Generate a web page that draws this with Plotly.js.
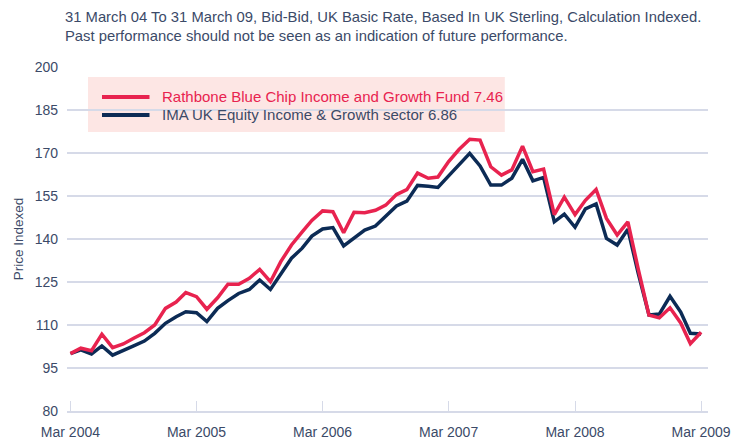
<!DOCTYPE html>
<html>
<head>
<meta charset="utf-8">
<script src="https://cdn.plot.ly/plotly-3.0.1.min.js"></script>
<style>html,body{margin:0;padding:0;background:#fff;}#chart{width:731px;height:441px;}</style>
</head>
<body>
<div id="chart"></div>
<script>
const months = [
 "2004-03-31","2004-04-30","2004-05-31","2004-06-30","2004-07-31","2004-08-31","2004-09-30","2004-10-31","2004-11-30","2004-12-31",
 "2005-01-31","2005-02-28","2005-03-31","2005-04-30","2005-05-31","2005-06-30","2005-07-31","2005-08-31","2005-09-30","2005-10-31",
 "2005-11-30","2005-12-31","2006-01-31","2006-02-28","2006-03-31","2006-04-30","2006-05-31","2006-06-30","2006-07-31","2006-08-31",
 "2006-09-30","2006-10-31","2006-11-30","2006-12-31","2007-01-31","2007-02-28","2007-03-31","2007-04-30","2007-05-31","2007-06-30",
 "2007-07-31","2007-08-31","2007-09-30","2007-10-31","2007-11-30","2007-12-31","2008-01-31","2008-02-29","2008-03-31","2008-04-30",
 "2008-05-31","2008-06-30","2008-07-31","2008-08-31","2008-09-30","2008-10-31","2008-11-30","2008-12-31","2009-01-31","2009-02-28",
 "2009-03-31"
];
const fundValues = [
 100.0, 101.9, 101.0, 106.8, 102.1, 103.4, 105.4, 107.3, 110.0, 115.8,
 118.0, 121.3, 119.9, 115.5, 119.5, 124.2, 124.2, 126.3, 129.4, 125.1,
 132.1, 137.9, 142.5, 146.5, 149.8, 149.5, 142.2, 149.3, 149.2, 150.0,
 151.8, 155.5, 157.2, 163.0, 161.2, 161.6, 167.0, 171.2, 174.8, 174.5,
 165.2, 162.3, 164.1, 172.4, 163.5, 164.4, 148.5, 154.6, 148.5, 153.5,
 157.3, 147.2, 141.4, 146.0, 129.5, 113.5, 112.5, 116.0, 110.7, 103.5,
 107.46
];
const sectorValues = [
 100.0, 101.3, 99.9, 102.7, 99.5, 101.0, 102.7, 104.4, 107.1, 110.6,
 112.9, 114.6, 114.3, 111.2, 115.8, 118.5, 121.0, 122.4, 125.7, 122.4,
 128.0, 133.3, 136.8, 141.0, 143.5, 144.0, 137.6, 140.2, 143.1, 144.5,
 147.8, 151.5, 153.2, 158.7, 158.4, 158.0, 162.0, 165.8, 169.9, 165.5,
 158.8, 158.8, 161.2, 167.8, 160.3, 161.5, 146.0, 148.7, 144.1, 150.5,
 152.2, 140.2, 137.9, 143.4, 128.0, 113.5, 113.8, 120.0, 114.5, 107.1,
 106.86
];
const seriesNames = [
 "Rathbone Blue Chip Income and Growth Fund 7.46",
 "IMA UK Equity Income & Growth sector 6.86"
];
const xTickVals = ["2004-03-31","2005-03-31","2006-03-31","2007-03-31","2008-03-31","2009-03-31"];
const xTickText = ["Mar 2004","Mar 2005","Mar 2006","Mar 2007","Mar 2008","Mar 2009"];
const yTickVals = [80, 95, 110, 125, 140, 155, 170, 185, 200];

const red = "#e8234f", navy = "#0c2b55", textCol = "#3b4a68", grid = "#d6dae8";

const traces = [
 {x: months, y: sectorValues, type: "scatter", mode: "lines", name: seriesNames[1],
  line: {color: navy, width: 3.5}},
 {x: months, y: fundValues, type: "scatter", mode: "lines", name: seriesNames[0],
  line: {color: red, width: 3.5}}
];

// legend drawn as a boxed key (paper coordinates)
const legendColors = [red, navy];
const legendTextColors = [red, textCol];
const legendRows = [0.9128, 0.8605];
const shapes = [
 {type: "rect", xref: "paper", yref: "paper", x0: 0.0328, x1: 0.683, y0: 0.811, y1: 0.971,
  fillcolor: "#fde6e4", line: {width: 0}, layer: "below"}
];
const annotations = [
 {xref: "paper", yref: "paper", x: -0.006, y: 1.175, xanchor: "left", yanchor: "top",
  align: "left", showarrow: false,
  text: "31 March 04 To 31 March 09, Bid-Bid, UK Basic Rate, Based In UK Sterling, Calculation Indexed.<br>Past performance should not be seen as an indication of future performance.",
  font: {size: 14.8, color: textCol}}
];
seriesNames.forEach((n, i) => {
 shapes.push({type: "line", xref: "paper", yref: "paper", x0: 0.0546, x1: 0.1287,
  y0: legendRows[i], y1: legendRows[i], line: {color: legendColors[i], width: 4}});
 annotations.push({xref: "paper", yref: "paper", x: 0.1451, y: legendRows[i],
  xanchor: "left", yanchor: "middle", showarrow: false, text: n,
  font: {size: 15, color: legendTextColors[i]}});
});

const layout = {
 width: 731, height: 441,
 margin: {l: 67, r: 23, t: 67, b: 30},
 paper_bgcolor: "#fff", plot_bgcolor: "#fff",
 font: {family: "Liberation Sans, Arial, sans-serif", color: textCol, size: 13},
 showlegend: false,
 xaxis: {type: "date", range: ["2004-03-21", "2009-04-20"],
  tickvals: xTickVals, ticktext: xTickText,
  showgrid: false, zeroline: false,
  showline: true, linecolor: grid, linewidth: 2,
  ticks: "inside", ticklen: 10, tickwidth: 1, tickcolor: grid,
  ticklabelstandoff: 7,
  tickfont: {size: 14, color: textCol}, automargin: false, fixedrange: true},
 yaxis: {range: [80, 200], tickvals: yTickVals,
  showgrid: true, gridcolor: grid, gridwidth: 2, zeroline: false,
  showline: false, ticks: "", ticklabelstandoff: 8,
  tickfont: {size: 14, color: textCol},
  title: {text: "Price Indexed", font: {size: 13.5, color: textCol}, standoff: 7},
  automargin: false, fixedrange: true},
 shapes: shapes,
 annotations: annotations
};

Plotly.newPlot("chart", traces, layout, {displayModeBar: false, staticPlot: true});
</script>
</body>
</html>
